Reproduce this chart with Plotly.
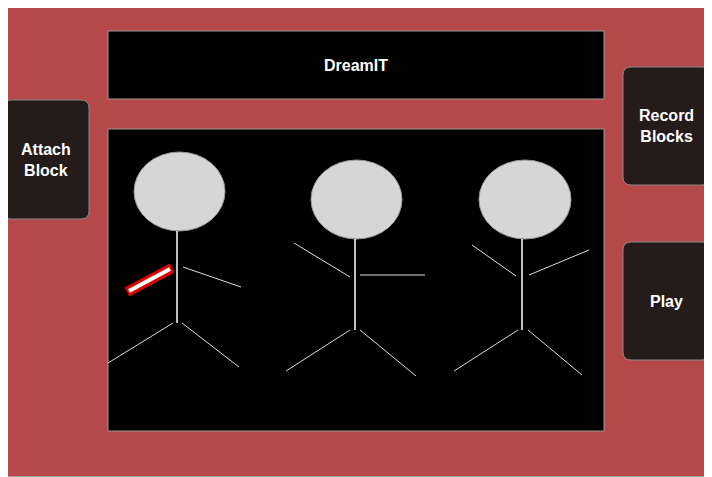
import plotly.graph_objects as go

# Panels: (label, x0, y0, x1, y1)
panel_labels = ["DreamIT", "", "Attach<br>Block", "Record<br>Blocks", "Play"]
panel_x0 = [108, 108, 3, 623, 623]
panel_y0 = [31, 129, 100, 67, 242]
panel_x1 = [604, 604, 89, 710, 710]
panel_y1 = [99, 431, 219, 185, 360]
panel_round = [False, False, True, True, True]

# Stick figures
head_x0 = [134, 311, 479]
head_x1 = [225, 402, 571]
head_y0 = [152, 160, 160]
head_y1 = [231, 239, 239]
body_x = [177, 355, 522]
body_top = [231, 239, 239]
body_bottom = [323, 330, 330]
limbs = [
    [(183, 267, 241, 287), (173, 323, 108, 363), (182, 323, 239, 367)],
    [(294, 243, 350, 277), (360, 275, 425, 275), (350, 330, 286, 371), (360, 330, 416, 376)],
    [(472, 245, 516, 276), (529, 275, 589, 250), (518, 330, 454, 371), (528, 330, 582, 375)],
]
block = (127, 292, 172, 268)

fig = go.Figure()
shapes = []
annotations = []


def rounded(x0, y0, x1, y1, r=8):
    return (f"M {x0+r},{y0} L {x1-r},{y0} Q {x1},{y0} {x1},{y0+r} L {x1},{y1-r} "
            f"Q {x1},{y1} {x1-r},{y1} L {x0+r},{y1} Q {x0},{y1} {x0},{y1-r} "
            f"L {x0},{y0+r} Q {x0},{y0} {x0+r},{y0} Z")


for lab, x0, y0, x1, y1, rd in zip(panel_labels, panel_x0, panel_y0, panel_x1, panel_y1, panel_round):
    if rd:
        shapes.append(dict(type="path", path=rounded(x0, y0, x1, y1), fillcolor="#251b1b",
                           line=dict(color="#8a8a8a", width=1)))
    else:
        shapes.append(dict(type="rect", x0=x0, y0=y0, x1=x1, y1=y1, fillcolor="black",
                           line=dict(color="#9a9a9a", width=1)))
    if lab:
        annotations.append(dict(x=(x0 + x1) / 2, y=(y0 + y1) / 2, text="<b>" + lab.replace("<br>", "</b><br><b>") + "</b>",
                                showarrow=False,
                                font=dict(family="Liberation Sans", size=16, color="white")))

for i in range(3):
    shapes.append(dict(type="circle", x0=head_x0[i], x1=head_x1[i], y0=head_y0[i], y1=head_y1[i],
                       fillcolor="#d6d6d6", line=dict(color="#999999", width=1)))
    shapes.append(dict(type="line", x0=body_x[i], x1=body_x[i], y0=body_top[i], y1=body_bottom[i],
                       line=dict(color="white", width=1.5)))
    for (a, b, c, d) in limbs[i]:
        shapes.append(dict(type="line", x0=a, y0=b, x1=c, y1=d, line=dict(color="#dddddd", width=1)))

shapes.append(dict(type="line", x0=block[0], y0=block[1], x1=block[2], y1=block[3],
                   line=dict(color="#e00000", width=10)))
shapes.append(dict(type="line", x0=block[0] + 2, y0=block[1] - 1, x1=block[2] - 2, y1=block[3] + 1,
                   line=dict(color="white", width=4)))

# the page puts the plot 8px in from the top-left, so the ranges start at 8
fig.update_layout(
    width=704, height=469,
    margin=dict(l=0, r=0, t=0, b=0),
    paper_bgcolor="#b5494a", plot_bgcolor="#b5494a",
    xaxis=dict(range=[8, 712], visible=False, fixedrange=True),
    yaxis=dict(range=[477, 8], visible=False, fixedrange=True),
    shapes=[dict(type="rect", x0=0.5, y0=0.5, x1=711.5, y1=476.5,
                 line=dict(color="#999999", width=1))] + shapes,
    annotations=annotations,
    showlegend=False,
)
fig.write_html("out.html")
